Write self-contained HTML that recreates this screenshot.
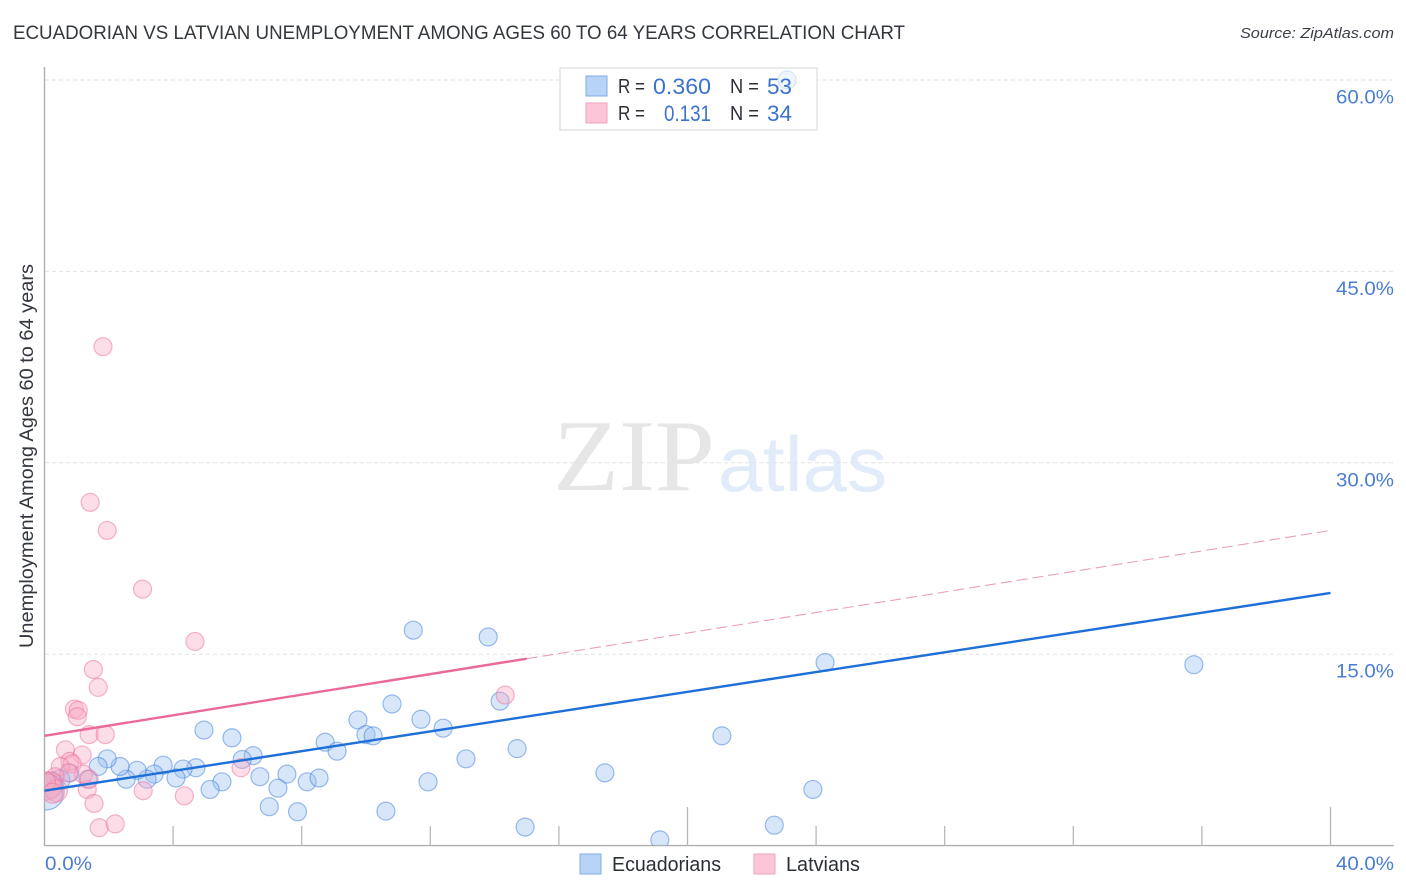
<!DOCTYPE html>
<html lang="en">
<head>
<meta charset="utf-8">
<title>Ecuadorian vs Latvian Unemployment Among Ages 60 to 64 Years Correlation Chart</title>
<style>
html,body{margin:0;padding:0;background:#fff;width:1406px;height:892px;overflow:hidden}
svg{display:block;font-family:"Liberation Sans",sans-serif}
</style>
</head>
<body>
<svg id="chart" xmlns="http://www.w3.org/2000/svg" width="1406" height="892" viewBox="0 0 1406 892">
  <defs><clipPath id="plot-clip"><rect x="45" y="60" width="1349" height="785.5"/></clipPath></defs>
  <text x="13" y="39" font-size="19" fill="#33373e" textLength="892" lengthAdjust="spacingAndGlyphs">ECUADORIAN VS LATVIAN UNEMPLOYMENT AMONG AGES 60 TO 64 YEARS CORRELATION CHART</text>
  <text x="1394" y="38" font-size="15" font-style="italic" fill="#3c4048" text-anchor="end" textLength="154" lengthAdjust="spacingAndGlyphs">Source: ZipAtlas.com</text>
  <g>
    <text x="553" y="490" font-family="'Liberation Serif',serif" font-size="102" fill="#e6e6e6" textLength="162" lengthAdjust="spacingAndGlyphs">ZIP</text>
    <text x="718" y="491" font-size="78" fill="#e2ebfa" textLength="169" lengthAdjust="spacingAndGlyphs">atlas</text>
  </g>
  <g id="grid"></g>
  <rect x="560" y="68" width="257" height="62" fill="#fff"/>
  <g id="axes"></g>
  <g id="points" clip-path="url(#plot-clip)"></g>
  <g id="trends"></g>
  <g>
    <rect x="560" y="68" width="257" height="62" fill="#fff" fill-opacity="0.62" stroke="#dcdcdc" stroke-width="1.2"/>
    <rect x="586" y="76" width="21" height="20" fill="#b7d3f6" stroke="#7fabe6"/>
    <rect x="586" y="103" width="21" height="20" fill="#fcc6d8" stroke="#f1a3bd"/>
    <text x="618" y="93" font-size="20" fill="#2b2f36" textLength="27" lengthAdjust="spacingAndGlyphs">R =</text>
    <text x="711" y="94" font-size="22" fill="#3b72d0" text-anchor="end" textLength="58" lengthAdjust="spacingAndGlyphs">0.360</text>
    <text x="730" y="93" font-size="20" fill="#2b2f36" textLength="29" lengthAdjust="spacingAndGlyphs">N =</text>
    <text x="767" y="94" font-size="22" fill="#3b72d0" textLength="25" lengthAdjust="spacingAndGlyphs">53</text>
    <text x="618" y="120" font-size="20" fill="#2b2f36" textLength="27" lengthAdjust="spacingAndGlyphs">R =</text>
    <text x="711" y="121" font-size="22" fill="#3b72d0" text-anchor="end" textLength="47" lengthAdjust="spacingAndGlyphs">0.131</text>
    <text x="730" y="120" font-size="20" fill="#2b2f36" textLength="29" lengthAdjust="spacingAndGlyphs">N =</text>
    <text x="767" y="121" font-size="22" fill="#3b72d0" textLength="25" lengthAdjust="spacingAndGlyphs">34</text>
  </g>
  <text transform="translate(33,456) rotate(-90)" font-size="19" fill="#33373e" text-anchor="middle" textLength="384" lengthAdjust="spacingAndGlyphs">Unemployment Among Ages 60 to 64 years</text>
  <g>
    <g>
      <rect x="580" y="854" width="21" height="20" fill="#b7d3f6" stroke="#7fabe6"/>
      <text x="612" y="871" font-size="20" fill="#2b2f36" textLength="109" lengthAdjust="spacingAndGlyphs">Ecuadorians</text>
    </g>
    <g>
      <rect x="754" y="854" width="21" height="20" fill="#fcc6d8" stroke="#f1a3bd"/>
      <text x="786" y="871" font-size="20" fill="#2b2f36" textLength="74" lengthAdjust="spacingAndGlyphs">Latvians</text>
    </g>
  </g>
</svg>
<script>
// Unemployment rate data (x = share %, y = unemployment %)
const ecuadorianX = [35.75,24.28,11.47,13.80,14.17,10.81,11.71,9.75,10.0,10.22,12.40,14.70,21.07,13.11,17.43,23.90,11.93,10.62,14.95,22.70,19.14,6.99,7.87,4.96,5.83,6.49,6.15,8.73,9.10,6.70,7.54,8.17,8.54,7.26,5.52,5.15,4.71,4.31,4.09,3.69,3.41,3.19,2.88,2.54,2.35,1.95,1.67,1.35,0.79,0.48,0.17,0.05,23.10];
const ecuadorianY = [14.18,14.35,16.88,16.35,11.32,11.1,9.9,9.85,8.7,8.6,9.2,7.6,8.6,6.8,5.7,4.4,5.0,2.7,1.45,1.6,0.45,3.05,2.65,9.05,8.45,7.05,6.75,8.1,7.4,5.4,5.6,5.0,5.3,4.5,5.0,4.4,6.1,6.0,5.3,6.3,5.6,5.2,5.9,5.2,6.2,6.8,6.2,5.2,5.7,5.15,4.75,4.2,60.0];
const ecuadorianR = [9,9,9,9,9,9,9,9,9,9,9,9,9,9,9,9,9,9,9,9,9,9,9,9,9,9,9,9,9,9,9,9,9,9,9,9,9,9,9,9,9,9,9,9,9,9,9,9,9,10,13,18,9];
const latvianX = [1.82,1.42,1.95,3.05,4.68,1.52,1.67,0.93,1.05,1.02,1.39,1.89,0.65,1.17,0.79,0.86,0.49,14.33,6.11,3.07,4.35,1.33,1.21,1.39,1.54,1.70,2.20,0.75,0.33,0.20,0.11,0.37,0.03,0.25];
const latvianY = [39.1,26.9,24.7,20.1,16.0,13.8,12.4,10.7,10.6,10.1,8.7,8.7,7.5,7.1,6.6,6.4,6.2,11.8,6.1,4.3,3.9,4.4,5.6,5.2,3.3,1.4,1.7,5.7,5.4,5.0,4.6,4.3,5.0,4.1];
const latvianR = [9,9,9,9,9,9,9,9,9,9,9,9,9,9,9,9,9,9,9,9,9,9,9,9,9,9,9,9,9,10,13,11,10,10];
// Trend endpoints: [x %, y %]
const ecuadorianTrendX = [0,40];
const ecuadorianTrendY = [4.3,19.8];
const latvianTrendX = [0,15];
const latvianTrendY = [8.6,14.65];
const latvianDashX = [15,40];
const latvianDashY = [14.65,24.7];
// Axis ticks
const yTickValues = [15,30,45,60];
const yTickLabels = ['15.0%','30.0%','45.0%','60.0%'];
const xTickValues = [0,4,8,12,16,20,24,28,32,36,40];
const xMajorTicks = [0,20,40];
const xEndValues = [0,40];
const xEndLabels = ['0.0%','40.0%'];

const NS = 'http://www.w3.org/2000/svg';
const xScale = v => 44.5 + v * 32.15;
const yScale = v => 845.6 - v * 12.76;
function make(tag, attrs, parent, text) {
  const el = document.createElementNS(NS, tag);
  for (const k in attrs) el.setAttribute(k, attrs[k]);
  if (text !== undefined) el.textContent = text;
  parent.appendChild(el);
  return el;
}
const grid = document.getElementById('grid');
const axes = document.getElementById('axes');
const points = document.getElementById('points');
const trends = document.getElementById('trends');

yTickValues.forEach((v, i) => {
  const line = make('line', {x1: 45, x2: 1394, y1: yScale(v), y2: yScale(v), stroke: '#e2e2e2', 'stroke-width': 1, 'stroke-dasharray': '4 3'}, grid);
  
  
  const label = make('text', {x: 1394, y: yScale(v) + 23.5, 'font-size': 19, fill: '#4a7dd4', 'text-anchor': 'end', textLength: 58, lengthAdjust: 'spacingAndGlyphs'}, axes, yTickLabels[i]);
  
  
});
const yAxis = make('line', {x1: 44.5, x2: 44.5, y1: 67, y2: 846, stroke: '#b0b0b0', 'stroke-width': 1.4}, axes);


const xAxis = make('line', {x1: 44, x2: 1394, y1: 845.6, y2: 845.6, stroke: '#b0b0b0', 'stroke-width': 1.4}, axes);


xTickValues.forEach(v => {
  if (v === 0) return;
  const top = xMajorTicks.includes(v) ? 807 : 826;
  const tick = make('line', {x1: xScale(v), x2: xScale(v), y1: top, y2: 846, stroke: '#b8b8b8', 'stroke-width': 1.3}, axes);
  
  
});
xEndValues.forEach((v, i) => {
  const first = i === 0;
  const label = make('text', {x: first ? 45 : 1394, y: 870, 'font-size': 19, fill: '#4a7dd4', 'text-anchor': first ? 'start' : 'end', textLength: first ? 47 : 58, lengthAdjust: 'spacingAndGlyphs'}, axes, xEndLabels[i]);
  
  
});

ecuadorianX.forEach((v, i) => {
  const dot = make('circle', {cx: xScale(v), cy: yScale(ecuadorianY[i]), r: ecuadorianR[i], fill: 'rgba(155,193,241,0.4)', stroke: 'rgba(60,125,220,0.5)', 'stroke-width': 1.2}, points);
  
  
});
latvianX.forEach((v, i) => {
  const dot = make('circle', {cx: xScale(v), cy: yScale(latvianY[i]), r: latvianR[i], fill: 'rgba(249,170,196,0.4)', stroke: 'rgba(236,110,155,0.5)', 'stroke-width': 1.2}, points);
  
  
});

const blueLine = make('line', {x1: xScale(ecuadorianTrendX[0]), y1: yScale(ecuadorianTrendY[0]), x2: xScale(ecuadorianTrendX[1]), y2: yScale(ecuadorianTrendY[1]), stroke: '#1f6fd8', 'stroke-width': 2.4}, trends);


const pinkLine = make('line', {x1: xScale(latvianTrendX[0]), y1: yScale(latvianTrendY[0]), x2: xScale(latvianTrendX[1]), y2: yScale(latvianTrendY[1]), stroke: '#e9699a', 'stroke-width': 2.4}, trends);


const pinkDash = make('line', {x1: xScale(latvianDashX[0]), y1: yScale(latvianDashY[0]), x2: xScale(latvianDashX[1]), y2: yScale(latvianDashY[1]), stroke: '#e9a0ba', 'stroke-width': 1.1, 'stroke-dasharray': '11 5'}, trends);


</script>
</body>
</html>
